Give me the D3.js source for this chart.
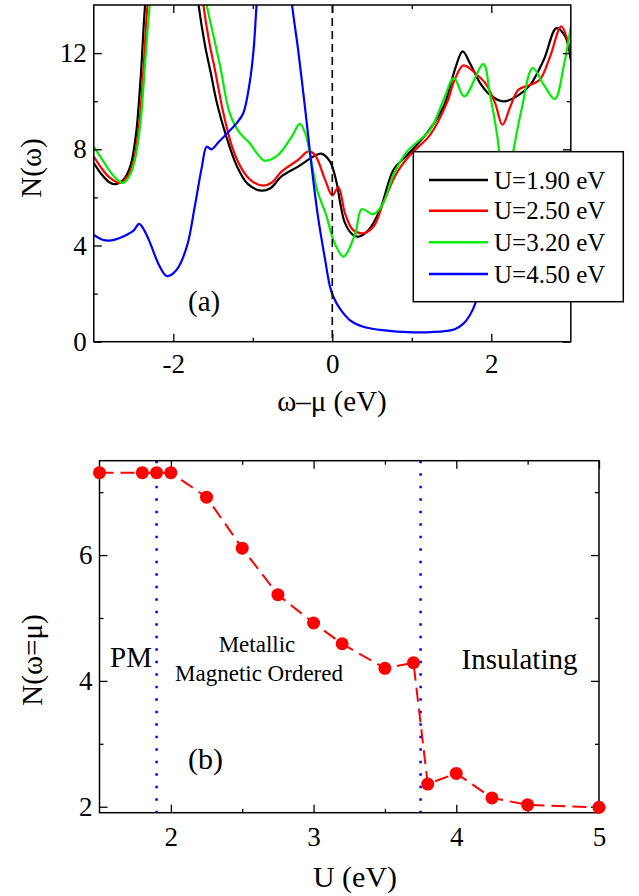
<!DOCTYPE html>
<html><head><meta charset="utf-8">
<script src="https://cdn.jsdelivr.net/npm/d3@7"></script>
<style>
body{margin:0;background:#fff}
svg{display:block}
</style>
</head><body>
<svg id="c" width="639" height="896"></svg>
<script>
// ---------- Panel (a): DOS N(omega) vs omega-mu ----------
const seriesLabels = ["U=1.90 eV", "U=2.50 eV", "U=3.20 eV", "U=4.50 eV"];
const seriesColors = ["#000000", "#ff0000", "#00ee00", "#0000ff"];

const dosU190 = [[-3.0,7.43],[-2.9,6.95],[-2.8,6.62],[-2.72,6.55],[-2.63,6.72],[-2.54,7.3],[-2.47,8.6],[-2.41,11.0],[-2.35,14.2],[-2.2,19],[-2.0,20],[-1.82,18.5],[-1.69,14.2],[-1.6,12.3],[-1.53,11.2],[-1.45,9.9],[-1.34,8.6],[-1.2,7.3],[-1.06,6.55],[-0.89,6.28],[-0.78,6.38],[-0.64,6.87],[-0.43,7.28],[-0.22,7.73],[-0.14,7.82],[-0.03,7.5],[0.055,6.6],[0.1,5.76],[0.16,4.93],[0.26,4.44],[0.33,4.37],[0.45,4.62],[0.6,5.48],[0.77,7.15],[0.94,7.75],[1.19,8.67],[1.40,9.78],[1.48,10.6],[1.55,11.4],[1.64,12.07],[1.73,11.59],[1.86,10.75],[1.98,10.27],[2.15,9.99],[2.32,10.2],[2.49,10.68],[2.66,11.72],[2.82,13.04],[2.93,12.69],[3.0,11.7]];

const dosU250 = [[-3.0,7.70],[-2.9,7.2],[-2.8,6.82],[-2.67,6.6],[-2.58,6.85],[-2.5,7.5],[-2.43,9.0],[-2.37,11.6],[-2.32,14.2],[-2.15,19],[-1.95,20],[-1.76,18.5],[-1.63,14.2],[-1.55,12.5],[-1.47,11.2],[-1.37,9.5],[-1.26,8.1],[-1.15,7.25],[-1.02,6.7],[-0.87,6.49],[-0.76,6.62],[-0.64,7.07],[-0.43,7.56],[-0.30,7.91],[-0.22,7.77],[-0.09,6.73],[0.0,6.08],[0.076,6.43],[0.16,5.34],[0.26,4.65],[0.39,4.51],[0.52,4.79],[0.64,5.76],[0.81,7.01],[0.98,7.77],[1.23,8.6],[1.44,9.92],[1.54,10.9],[1.65,11.49],[1.82,11.1],[1.94,10.68],[2.05,9.9],[2.14,9.02],[2.24,9.78],[2.34,10.47],[2.49,10.68],[2.61,10.89],[2.74,11.86],[2.88,13.11],[2.97,12.42],[3.0,12.0]];

const dosU320 = [[-3.0,8.11],[-2.9,7.6],[-2.8,7.1],[-2.7,6.72],[-2.63,6.6],[-2.55,6.9],[-2.48,7.6],[-2.41,9.2],[-2.35,11.8],[-2.29,14.2],[-2.1,19],[-1.9,20],[-1.72,18],[-1.59,14.2],[-1.5,12.8],[-1.41,11.44],[-1.29,9.5],[-1.17,8.7],[-1.04,8.26],[-0.95,7.84],[-0.85,7.53],[-0.68,7.77],[-0.51,8.53],[-0.41,9.06],[-0.34,8.67],[-0.27,7.6],[-0.19,6.3],[-0.07,5.2],[0.013,4.23],[0.14,3.54],[0.29,4.51],[0.37,5.51],[0.52,5.3],[0.64,5.76],[0.77,6.94],[0.94,7.91],[1.23,8.81],[1.40,10.06],[1.53,10.96],[1.66,10.2],[1.90,11.54],[1.98,10.34],[2.07,8.67],[2.18,6.0],[2.28,7.98],[2.38,9.64],[2.52,11.38],[2.66,10.68],[2.80,10.09],[2.91,11.44],[3.0,13.1]];

const dosU450 = [[-3.0,4.44],[-2.9,4.25],[-2.8,4.2],[-2.7,4.28],[-2.59,4.44],[-2.5,4.62],[-2.43,4.9],[-2.36,4.6],[-2.29,4.09],[-2.17,3.12],[-2.08,2.73],[-1.96,2.98],[-1.83,3.95],[-1.73,5.62],[-1.64,7.28],[-1.58,8.11],[-1.52,8.0],[-1.43,8.3],[-1.3,8.74],[-1.2,9.1],[-1.12,9.5],[-1.04,10.75],[-0.99,12.14],[-0.95,14.1],[-0.87,17],[-0.73,18.5],[-0.6,17],[-0.51,14.1],[-0.43,12.14],[-0.34,9.64],[-0.26,7.28],[-0.18,5.2],[-0.09,3.4],[-0.03,2.3],[0.013,1.87],[0.1,1.35],[0.22,0.9],[0.39,0.62],[0.6,0.49],[1.02,0.39],[1.44,0.45],[1.54,0.52],[1.65,0.75],[1.73,1.1],[1.8,1.6],[1.9,3.0],[2.0,4.5],[2.2,5.6],[2.5,6.0],[2.8,6.5],[3.0,6.6]];

const dosSeries = [dosU190, dosU250, dosU320, dosU450];
const aXMajor = [-2, 0, 2], aXMinor = [-1, 1];
const aYMajor = [0, 4, 8, 12], aYMinor = [2, 6, 10];

// ---------- Panel (b): N(omega=mu) vs U ----------
const uValues = [1.5, 1.8, 1.9, 2.0, 2.25, 2.5, 2.75, 3.0, 3.2, 3.5, 3.7, 3.8, 4.0, 4.25, 4.5, 5.0];
const nAtMu   = [7.31, 7.31, 7.31, 7.31, 6.92, 6.11, 5.37, 4.92, 4.59, 4.2, 4.29, 2.36, 2.53, 2.14, 2.03, 1.99];
const phaseBoundaries = [1.9, 3.75];
const bXMajor = [2, 3, 4, 5], bXMinor = [2.5, 3.5, 4.5];
const bYMajor = [2, 4, 6], bYMinor = [3, 5, 7];

const FONT = "'Liberation Serif', 'Times New Roman', Times, 'DejaVu Serif', serif";
const svg = d3.select("#c").attr("font-family", FONT);
const TICK_FS = 27;

function txt(sel) { return sel.attr("font-family", FONT).attr("fill", "#000"); }

function drawAxes(g, x, y, W, H, xMaj, xMin, yMaj, yMin, xPad, yPad) {
  const fmt = d => String(d);
  const add = (axis, tr) => {
    const a = g.append("g").attr("transform", tr).call(axis).attr("font-family", FONT).attr("font-size", TICK_FS);
    a.select(".domain").remove();
    a.selectAll("line").attr("stroke", "#000").attr("stroke-width", 1.3);
    a.selectAll("text").attr("font-family", FONT).attr("font-size", TICK_FS).attr("fill", "#000");
    return a;
  };
  add(d3.axisBottom(x).tickValues(xMaj).tickSize(-8).tickPadding(xPad).tickFormat(fmt), `translate(0,${H})`);
  add(d3.axisBottom(x).tickValues(xMin).tickSize(-4).tickFormat(""), `translate(0,${H})`);
  add(d3.axisTop(x).tickValues(xMaj).tickSize(-8).tickFormat(""), `translate(0,0)`);
  add(d3.axisTop(x).tickValues(xMin).tickSize(-4).tickFormat(""), `translate(0,0)`);
  add(d3.axisLeft(y).tickValues(yMaj).tickSize(-8).tickPadding(yPad).tickFormat(fmt), `translate(0,0)`);
  add(d3.axisLeft(y).tickValues(yMin).tickSize(-4).tickFormat(""), `translate(0,0)`);
  add(d3.axisRight(y).tickValues(yMaj).tickSize(-8).tickFormat(""), `translate(${W},0)`);
  add(d3.axisRight(y).tickValues(yMin).tickSize(-4).tickFormat(""), `translate(${W},0)`);
}

// ===== Panel (a) =====
const A = {left: 93.8, top: 5, W: 477, H: 336.7};
const gA = svg.append("g").attr("transform", `translate(${A.left},${A.top})`);
const xA = d3.scaleLinear().domain([-3, 3]).range([0, A.W]);
const yA = d3.scaleLinear().domain([0, 14]).range([A.H, 0]);

svg.append("defs").append("clipPath").attr("id", "clipA")
  .append("rect").attr("x", 0).attr("y", 0).attr("width", A.W).attr("height", A.H);

const lineA = d3.line().x(d => xA(d[0])).y(d => yA(d[1])).curve(d3.curveCatmullRom.alpha(0.5));
const curves = gA.append("g").attr("clip-path", "url(#clipA)");
dosSeries.forEach((s, i) => {
  curves.append("path").datum(s).attr("d", lineA)
    .attr("fill", "none").attr("stroke", seriesColors[i]).attr("stroke-width", 2.2)
    .attr("stroke-linejoin", "round");
});
// Fermi level dashed line
gA.append("line").attr("x1", xA(0)).attr("x2", xA(0)).attr("y1", 0).attr("y2", A.H)
  .attr("stroke", "#000").attr("stroke-width", 1.6).attr("stroke-dasharray", "8,5");

gA.append("rect").attr("x", 0).attr("y", 0).attr("width", A.W).attr("height", A.H)
  .attr("fill", "none").attr("stroke", "#000").attr("stroke-width", 1.5);
drawAxes(gA, xA, yA, A.W, A.H, aXMajor, aXMinor, aYMajor, aYMinor, 12, 7);

txt(gA.append("text")).attr("x", 188 - A.left).attr("y", 311 - A.top).attr("font-size", 29).text("(a)");

// legend (overlaps plot frame, white filled)
const leg = svg.append("g");
leg.append("rect").attr("x", 413.3).attr("y", 151.7).attr("width", 210).attr("height", 150)
  .attr("fill", "#fff").attr("stroke", "#000").attr("stroke-width", 1.5);
const legRows = [180, 210.7, 242.3, 274];
seriesLabels.forEach((lab, i) => {
  leg.append("line").attr("x1", 429).attr("x2", 488).attr("y1", legRows[i]).attr("y2", legRows[i])
    .attr("stroke", seriesColors[i]).attr("stroke-width", 2.5);
  txt(leg.append("text")).attr("x", 494).attr("y", legRows[i] + 8.5).attr("font-size", 25).text(lab);
});

// axis titles
txt(svg.append("text")).attr("x", 332).attr("y", 411).attr("text-anchor", "middle").attr("font-size", 29).text("ω–μ (eV)");
txt(svg.append("text")).attr("transform", "translate(41,168) rotate(-90)").attr("text-anchor", "middle").attr("font-size", 29).text("N(ω)");

// ===== Panel (b) =====
const B = {left: 99.5, top: 460.7, W: 499.5, H: 352};
const gB = svg.append("g").attr("transform", `translate(${B.left},${B.top})`);
const xB = d3.scaleLinear().domain([1.5, 5]).range([0, B.W]);
const yB = d3.scaleLinear().domain([1.905, 7.5]).range([B.H, 0]);

phaseBoundaries.forEach(u => {
  gB.append("line").attr("x1", xB(u)).attr("x2", xB(u)).attr("y1", 0).attr("y2", B.H)
    .attr("stroke", "#0000ff").attr("stroke-width", 2.5).attr("stroke-dasharray", "2.5,10");
});

gB.append("rect").attr("x", 0).attr("y", 0).attr("width", B.W).attr("height", B.H)
  .attr("fill", "none").attr("stroke", "#000").attr("stroke-width", 1.5);
drawAxes(gB, xB, yB, B.W, B.H, bXMajor, bXMinor, bYMajor, bYMinor, 14, 7);

const pts = uValues.map((u, i) => [u, nAtMu[i]]);
gB.append("path").datum(pts)
  .attr("d", d3.line().x(d => xB(d[0])).y(d => yB(d[1])))
  .attr("fill", "none").attr("stroke", "#ff0000").attr("stroke-width", 2).attr("stroke-dasharray", "14,7");
gB.selectAll("circle.pt").data(pts).enter().append("circle").attr("class", "pt")
  .attr("cx", d => xB(d[0])).attr("cy", d => yB(d[1])).attr("r", 6.5).attr("fill", "#ff0000");

// annotations
txt(svg.append("text")).attr("x", 110).attr("y", 666.5).attr("font-size", 29).text("PM");
txt(svg.append("text")).attr("x", 257).attr("y", 651.5).attr("text-anchor", "middle").attr("font-size", 23).text("Metallic");
txt(svg.append("text")).attr("x", 259).attr("y", 680.5).attr("text-anchor", "middle").attr("font-size", 23).text("Magnetic Ordered");
txt(svg.append("text")).attr("x", 461.5).attr("y", 668.5).attr("font-size", 29).text("Insulating");
txt(svg.append("text")).attr("x", 188).attr("y", 769).attr("font-size", 30).text("(b)");

txt(svg.append("text")).attr("x", 355).attr("y", 887).attr("text-anchor", "middle").attr("font-size", 30).text("U (eV)");
txt(svg.append("text")).attr("transform", "translate(42,660) rotate(-90)").attr("text-anchor", "middle").attr("font-size", 29).text("N(ω=μ)");
</script>
</body></html>
